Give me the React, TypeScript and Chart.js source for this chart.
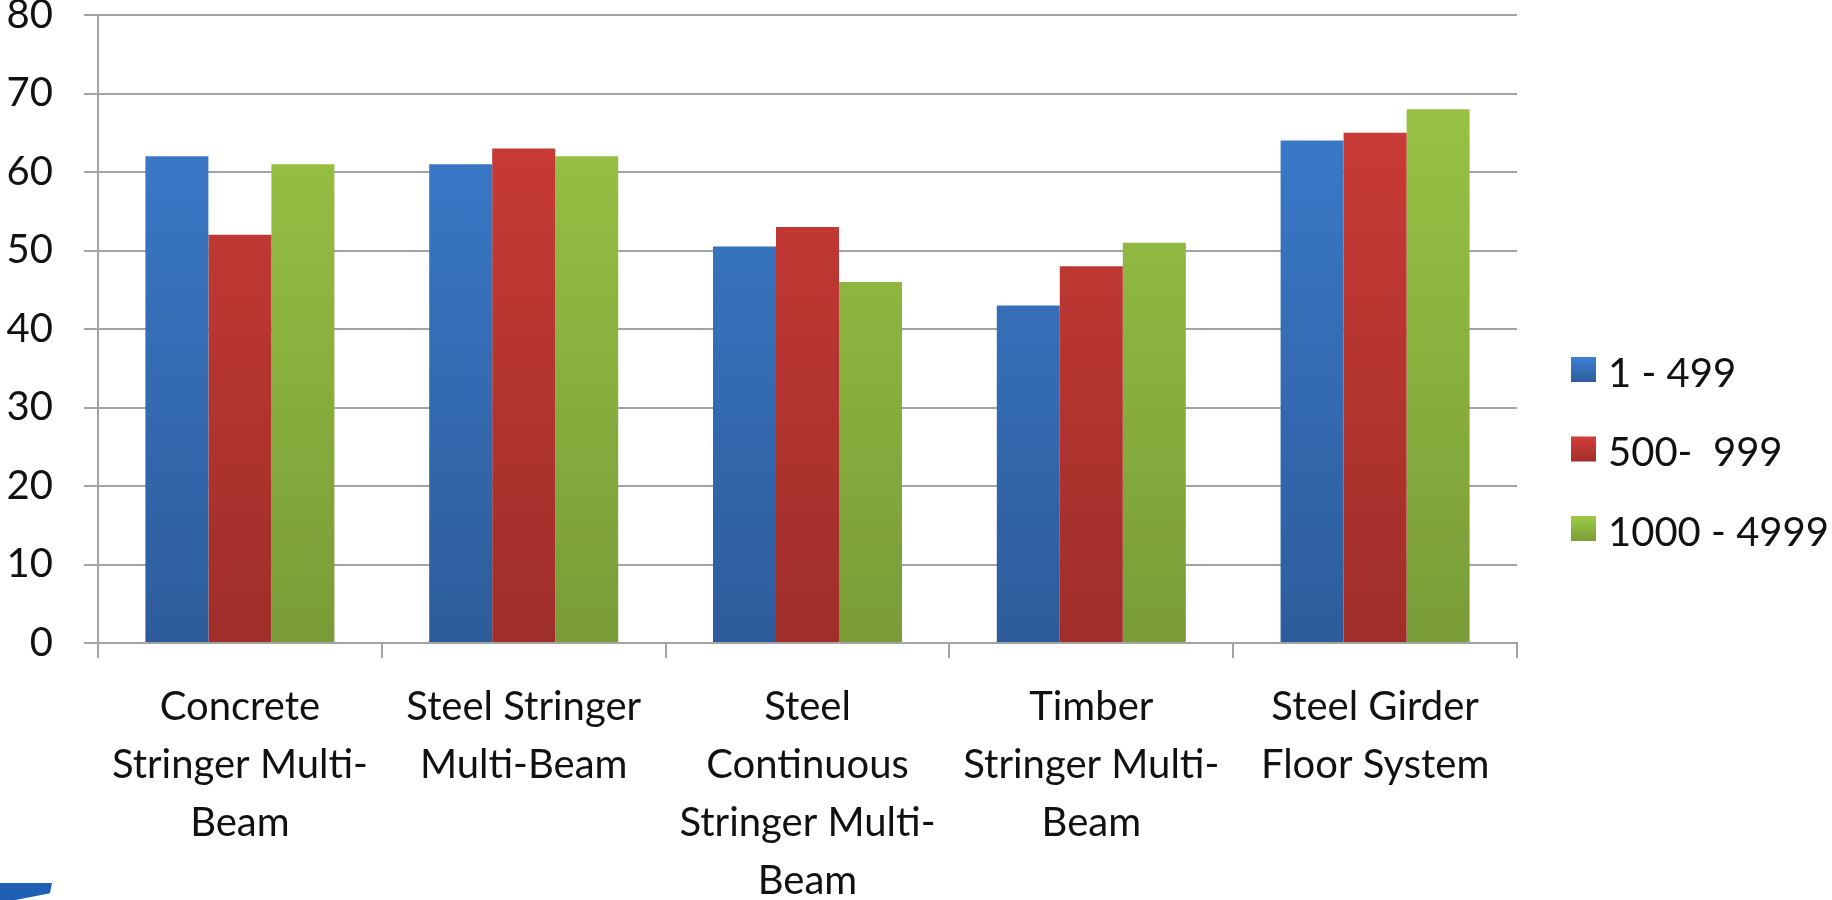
import React, { useEffect, useRef } from "react";
import { Chart, registerables } from "chart.js";

Chart.register(...registerables);

// Bridge types along the x axis (multi-line labels)
const categories: string[][] = [
  ["Concrete", "Stringer Multi-", "Beam"],
  ["Steel Stringer", "Multi-Beam"],
  ["Steel", "Continuous", "Stringer Multi-", "Beam"],
  ["Timber", "Stringer Multi-", "Beam"],
  ["Steel Girder", "Floor System"],
];

// Series names
const seriesLabels = ["1 - 499", "500-  999", "1000 - 4999"];

// Values per series
const series1 = [62, 61, 50.5, 43, 64];
const series2 = [52, 63, 53, 48, 65];
const series3 = [61, 62, 46, 51, 68];

// Y axis range
const yMin = 0;
const yMax = 80;
const yStep = 10;

const FONT = "Lato, 'Open Sans', sans-serif";
const GRID = "#a3a3a3";

// top / bottom shades for each series fill
const shades: [string, string][] = [
  ["#3d7fd2", "#2d5c9b"],
  ["#d23d38", "#9f2e2a"],
  ["#9ec845", "#799c38"],
];

function barFill(i: number) {
  return (ctx: any) => {
    const chart = ctx.chart;
    const area = chart.chartArea;
    if (!area) return shades[i][0];
    const g = chart.ctx.createLinearGradient(0, area.top, 0, area.bottom);
    g.addColorStop(0, shades[i][0]);
    g.addColorStop(1, shades[i][1]);
    return g;
  };
}

// Legend drawn to the right of the plot area
const sideLegend = {
  id: "sideLegend",
  afterDraw(chart: any) {
    const { ctx } = chart;
    const x0 = 1571;
    const y0 = 371;
    const step = 79.5;
    ctx.save();
    ctx.font = `40px ${FONT}`;
    ctx.textBaseline = "middle";
    ctx.textAlign = "left";
    chart.data.datasets.forEach((ds: any, i: number) => {
      const y = y0 + i * step;
      const g = ctx.createLinearGradient(0, y - 13, 0, y + 12);
      g.addColorStop(0, shades[i][0]);
      g.addColorStop(1, shades[i][1]);
      ctx.fillStyle = g;
      ctx.fillRect(x0, y - 14, 25, 25);
      ctx.fillStyle = "#111";
      ctx.fillText(ds.label, x0 + 37, y + 3);
    });
    ctx.restore();
  },
};

export default function App() {
  const ref = useRef<HTMLCanvasElement | null>(null);

  useEffect(() => {
    if (!ref.current) return;
    const data = [series1, series2, series3];
    const chart = new Chart(ref.current, {
      type: "bar",
      data: {
        labels: categories,
        datasets: seriesLabels.map((label, i) => ({
          label,
          data: data[i],
          backgroundColor: barFill(i),
          borderWidth: 0,
          categoryPercentage: 0.666,
          barPercentage: 1.0,
        })),
      },
      options: {
        responsive: false,
        animation: false,
        layout: { padding: { top: 15, right: 315, bottom: 0, left: 0 } },
        plugins: {
          legend: { display: false },
          tooltip: { enabled: false },
        },
        scales: {
          x: {
            afterFit: (s: any) => {
              s.height = 257;
              s.paddingLeft = 0;
              s.paddingRight = 0;
            },
            grid: {
              offset: true,
              drawOnChartArea: false,
              drawTicks: true,
              tickLength: 15,
              color: GRID,
              lineWidth: 2,
            },
            border: { display: true, color: GRID, width: 2 },
            ticks: {
              autoSkip: false,
              maxRotation: 0,
              minRotation: 0,
              padding: 20,
              color: "#111",
              font: { family: FONT, size: 40, lineHeight: 1.45 },
            },
          },
          y: {
            min: yMin,
            max: yMax,
            afterFit: (s: any) => {
              s.width = 98;
              s.paddingTop = 0;
              s.paddingBottom = 0;
            },
            grid: {
              color: GRID,
              lineWidth: 2,
              tickLength: 14,
              drawTicks: true,
            },
            border: { display: true, color: GRID, width: 2 },
            ticks: {
              stepSize: yStep,
              padding: 31,
              color: "#111",
              font: { family: FONT, size: 40, lineHeight: 1.2 },
            },
          },
        },
      },
      plugins: [sideLegend],
    });
    return () => chart.destroy();
  }, []);

  return (
    <div style={{ position: "absolute", left: 0, top: 0, width: 1832, height: 900, background: "#fff", overflow: "hidden" }}>
      <canvas ref={ref} width={1832} height={900} style={{ display: "block" }} />
      <div
        style={{
          position: "absolute",
          left: 0,
          top: 883,
          width: 52,
          height: 17,
          background: "#1f5fb4",
          clipPath: "polygon(0 0, 100% 0, 96% 60%, 30% 100%, 0 100%)",
        }}
      />
    </div>
  );
}
